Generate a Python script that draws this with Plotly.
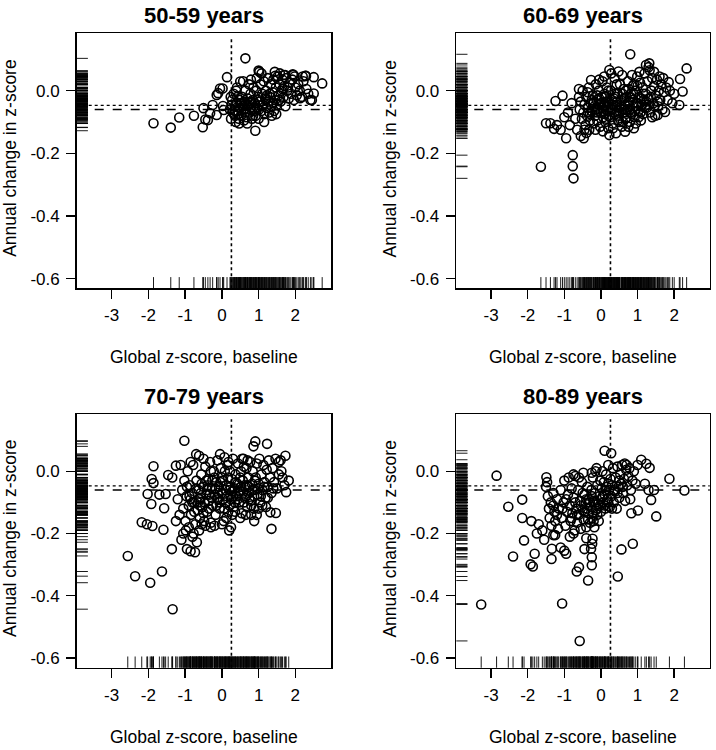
import plotly.graph_objects as go

FONT = "Liberation Sans, Arial, Helvetica, sans-serif"

panel_titles = ["50-59 years", "60-69 years", "70-79 years", "80-89 years"]
x_title = "Global z-score, baseline"
y_title = "Annual change in z-score"

x_tickvals = [-3, -2, -1, 0, 1, 2]
x_ticktext = ["-3", "-2", "-1", "0", "1", "2"]
y_tickvals = [0.0, -0.2, -0.4, -0.6]
y_ticktext = ["0.0", "-0.2", "-0.4", "-0.6"]

baseline_ref = 0.26      # vertical dotted line
change_ref_dot = -0.047  # horizontal dotted line
change_ref_dash = -0.060 # horizontal dashed line

# (baseline z-score, annual change) per age group
pts_5059 = [
    (-1.86, -0.104), (-1.39, -0.118), (-1.16, -0.086), (-0.76, -0.080), (-0.52, -0.117),
    (-0.45, -0.092), (-0.50, -0.056), (-0.38, -0.094), (-0.32, -0.072), (-0.25, -0.046),
    (-0.14, -0.078), (-0.14, -0.014), (-0.05, 0.007), (0.02, 0.007), (0.14, 0.043),
    (0.03, -0.049), (0.05, -0.062), (-0.10, -0.008), (0.64, 0.103), (0.91, -0.128),
    (1.00, 0.064), (1.02, 0.060), (1.68, 0.050), (1.95, 0.050), (2.29, 0.047),
    (2.50, 0.043), (2.73, 0.023), (2.45, -0.030), (2.50, -0.009), (2.13, -0.024),
    (2.41, -0.030), (2.27, 0.047), (1.93, 0.052), (1.45, 0.047), (0.50, 0.029),
    (0.22, -0.060), (0.25, -0.090), (0.28, -0.030), (0.30, -0.070), (0.32, -0.010),
    (0.35, -0.050), (0.36, -0.080), (0.38, -0.100), (0.40, -0.040), (0.42, -0.020),
    (0.44, -0.065), (0.46, -0.090), (0.48, -0.030), (0.50, -0.055), (0.41, 0.010),
    (0.33, -0.075), (0.27, -0.045), (0.47, -0.105), (0.24, -0.020), (0.39, 0.000),
    (0.52, -0.080), (0.55, -0.020), (0.57, -0.050), (0.60, -0.095), (0.62, -0.035),
    (0.64, 0.000), (0.66, -0.060), (0.68, -0.085), (0.70, -0.025), (0.72, -0.045),
    (0.74, 0.020), (0.76, -0.070), (0.78, -0.010), (0.80, -0.055), (0.82, -0.090),
    (0.84, -0.030), (0.86, 0.010), (0.88, -0.065), (0.58, 0.030), (0.69, -0.105),
    (0.79, 0.035), (0.53, -0.040), (0.63, -0.070), (0.75, -0.040), (0.85, -0.080),
    (0.90, -0.040), (0.92, -0.080), (0.94, 0.000), (0.96, -0.055), (0.98, -0.020),
    (1.00, -0.090), (1.03, -0.035), (1.05, 0.020), (1.07, -0.065), (1.10, -0.010),
    (1.12, -0.045), (1.14, 0.030), (1.16, -0.075), (1.18, -0.025), (1.20, 0.000),
    (1.22, -0.055), (1.25, 0.040), (1.27, -0.035), (1.29, -0.070), (0.95, 0.040),
    (1.08, 0.055), (1.15, -0.100), (1.01, -0.060), (1.23, -0.015), (1.31, -0.020),
    (1.33, 0.020), (1.35, -0.050), (1.38, -0.005), (1.40, 0.035), (1.42, -0.065),
    (1.45, -0.030), (1.47, 0.010), (1.50, -0.045), (1.52, 0.045), (1.55, -0.015),
    (1.57, 0.020), (1.60, -0.035), (1.62, 0.000), (1.65, 0.035), (1.68, -0.020),
    (1.70, 0.015), (1.73, -0.050), (1.75, 0.040), (1.78, 0.000), (1.36, -0.080),
    (1.48, -0.075), (1.58, 0.055), (1.72, 0.050), (1.44, 0.060), (1.82, -0.025),
    (1.85, 0.025), (1.88, -0.010), (1.92, 0.035), (1.96, -0.030), (2.00, 0.010),
    (2.04, -0.015), (2.08, 0.020), (2.12, 0.000), (2.18, -0.020), (2.22, 0.030),
    (2.30, 0.005), (2.35, -0.010), (2.20, 0.045), (1.98, 0.045),
    (0.35, -0.065), (0.50, -0.040), (0.60, -0.060), (0.70, -0.050), (0.80, -0.035),
    (0.90, -0.060), (1.00, -0.030), (1.10, -0.045), (1.20, -0.030), (1.30, -0.010),
    (1.40, -0.040), (1.55, -0.030), (1.65, 0.005), (1.80, 0.010), (0.65, -0.040),
    (0.45, -0.075),
]

pts_6069 = [
    (-1.64, -0.243), (-0.77, -0.206), (-0.77, -0.241), (-0.75, -0.280), (0.80, 0.116),
    (2.34, 0.071), (2.16, 0.037), (2.23, -0.003), (2.14, -0.046), (1.85, 0.027),
    (-1.50, -0.104), (-1.38, -0.104), (-1.20, -0.110), (-1.28, -0.122), (-1.10, -0.125),
    (-1.24, -0.033), (-1.05, -0.016), (-0.95, -0.152), (-0.47, -0.152), (-0.55, -0.145),
    (-0.40, -0.135), (-0.27, 0.034), (0.23, -0.142), (0.41, -0.136), (0.66, -0.131),
    (0.90, -0.120), (0.23, 0.066), (0.48, 0.061), (1.23, 0.082), (1.32, 0.087),
    (-0.90, -0.070), (-0.85, -0.110), (-0.70, -0.090), (-0.80, -0.040), (-0.65, -0.125),
    (-0.60, -0.020), (-1.00, -0.085), (1.55, -0.078), (1.75, -0.068), (1.95, -0.040),
    (2.00, -0.010), (1.70, 0.040), (1.45, 0.060),
    (-0.58, -0.060), (-0.55, -0.035), (-0.52, -0.090), (-0.50, 0.000), (-0.48, -0.070),
    (-0.45, -0.045), (-0.42, -0.110), (-0.40, -0.020), (-0.38, -0.080), (-0.35, -0.055),
    (-0.33, 0.010), (-0.30, -0.095), (-0.28, -0.040), (-0.25, -0.065), (-0.22, -0.015),
    (-0.20, -0.105), (-0.45, -0.125), (-0.32, -0.125), (-0.60, 0.005), (-0.36, -0.005),
    (-0.18, -0.050), (-0.16, -0.080), (-0.14, 0.020), (-0.12, -0.030), (-0.10, -0.095),
    (-0.08, -0.060), (-0.06, 0.000), (-0.04, -0.045), (-0.02, -0.115), (0.00, -0.070),
    (0.02, -0.020), (0.04, 0.030), (0.06, -0.085), (0.08, -0.050), (0.10, -0.010),
    (0.12, -0.100), (0.14, -0.035), (0.16, 0.010), (0.18, -0.065), (0.20, -0.120),
    (-0.05, 0.035), (0.09, 0.045), (-0.15, -0.125), (0.05, -0.130),
    (0.22, -0.040), (0.25, -0.085), (0.27, 0.000), (0.30, -0.060), (0.32, -0.105),
    (0.35, -0.025), (0.37, 0.040), (0.40, -0.075), (0.42, -0.045), (0.45, -0.010),
    (0.47, -0.095), (0.50, -0.055), (0.52, 0.020), (0.55, -0.030), (0.57, -0.115),
    (0.60, -0.070), (0.62, 0.005), (0.65, -0.045), (0.67, -0.090), (0.70, -0.020),
    (0.28, 0.055), (0.58, 0.050), (0.33, -0.120), (0.43, 0.020), (0.63, -0.060),
    (0.72, -0.060), (0.74, 0.030), (0.77, -0.035), (0.79, -0.100), (0.82, -0.010),
    (0.84, -0.075), (0.87, 0.015), (0.89, -0.050), (0.92, -0.085), (0.94, 0.000),
    (0.97, -0.040), (0.99, 0.045), (1.02, -0.065), (1.04, -0.020), (1.07, 0.025),
    (1.09, -0.095), (1.12, -0.045), (1.14, 0.010), (1.17, -0.030), (1.19, 0.055),
    (0.75, -0.115), (0.95, -0.105), (1.05, 0.060), (0.85, 0.050), (1.15, -0.075),
    (1.22, -0.010), (1.25, -0.055), (1.27, 0.030), (1.30, -0.025), (1.33, 0.065),
    (1.35, -0.070), (1.38, 0.000), (1.40, 0.040), (1.43, -0.040), (1.45, 0.015),
    (1.48, -0.080), (1.50, -0.015), (1.53, 0.035), (1.56, -0.050), (1.58, 0.000),
    (1.62, -0.030), (1.65, 0.020), (1.68, -0.060), (1.72, -0.005), (1.78, 0.010),
    (1.82, -0.030), (1.88, 0.000), (1.40, -0.085), (1.60, 0.045), (1.30, 0.075),
    (-0.25, -0.030), (-0.15, -0.060), (-0.05, -0.025), (0.03, -0.055), (0.11, -0.075),
    (0.19, -0.035), (0.26, -0.060), (0.34, -0.045), (0.41, -0.020), (0.49, -0.080),
    (0.56, -0.050), (0.64, -0.025), (0.71, -0.085), (0.78, -0.060), (0.86, -0.030),
    (0.93, -0.065), (1.01, -0.040), (1.08, -0.070), (1.16, -0.010), (1.24, -0.035),
    (0.15, -0.090), (0.38, -0.010), (0.60, -0.100), (0.90, 0.020), (1.10, -0.050),
    (-0.10, -0.070), (0.45, -0.065), (0.68, 0.000), (0.30, -0.030), (0.80, -0.020),
    (-0.35, -0.070), (-0.20, -0.040), (-0.10, -0.015), (0.00, -0.040), (0.07, -0.065),
    (0.13, -0.020), (0.21, -0.080), (0.29, -0.045), (0.36, -0.070), (0.44, -0.035),
    (0.51, -0.065), (0.59, -0.010), (0.66, -0.070), (0.73, -0.040), (0.81, -0.070),
    (0.88, -0.010), (0.96, -0.050), (1.03, -0.085), (1.11, -0.025), (1.20, -0.055),
    (1.28, -0.045), (1.36, -0.020), (1.46, -0.050), (1.55, -0.035), (0.50, -0.100),
    (0.20, 0.000), (0.75, 0.005), (1.00, 0.015), (-0.30, -0.075), (0.10, -0.045),
]

pts_7079 = [
    (-2.56, -0.272), (-2.36, -0.337), (-1.95, -0.358), (-1.63, -0.322), (-1.34, -0.443),
    (-1.36, -0.250), (-1.02, 0.098), (-1.86, 0.016), (-2.02, -0.073), (-1.92, -0.105),
    (-1.91, -0.025), (-1.86, -0.038), (-2.18, -0.164), (-2.04, -0.170), (-1.89, -0.176),
    (-1.59, -0.188), (-1.57, -0.119), (-1.53, -0.073), (-1.46, -0.012), (-1.25, 0.018),
    (-1.35, -0.020), (-1.70, -0.075), (-1.12, 0.020), (-0.95, -0.250), (-0.85, -0.257),
    (-0.73, -0.260), (-0.68, -0.228), (-0.80, -0.210), (-0.90, -0.180), (-1.05, -0.200),
    (-1.15, -0.140), (-1.20, -0.090), (-1.25, -0.160), (-1.10, -0.220), (-0.62, -0.190),
    (-0.55, -0.170), (0.88, -0.160), (1.35, -0.185), (1.32, -0.132), (1.47, -0.134),
    (0.91, 0.096), (0.86, 0.080), (1.23, 0.088), (1.73, 0.050), (1.75, -0.067),
    (1.82, -0.030), (-0.70, 0.055), (-0.62, 0.050), (-0.05, 0.055), (0.25, -0.180),
    (0.20, -0.190), (0.95, -0.140), (1.10, -0.110), (1.62, 0.000), (1.70, -0.045),
    (1.55, 0.030),
    (-1.08, -0.060), (-1.05, -0.120), (-1.02, -0.030), (-0.99, -0.160), (-0.96, -0.080),
    (-0.93, 0.000), (-0.90, -0.110), (-0.87, -0.045), (-0.84, -0.140), (-0.81, -0.070),
    (-0.78, 0.020), (-0.75, -0.100), (-0.72, -0.170), (-0.69, -0.030), (-0.66, -0.125),
    (-0.63, -0.060), (-0.60, -0.150), (-0.98, -0.190), (-0.77, -0.200), (-0.85, 0.030),
    (-0.58, -0.085), (-0.56, -0.010), (-0.53, -0.115), (-0.50, -0.050), (-0.48, -0.160),
    (-0.45, 0.015), (-0.42, -0.075), (-0.40, -0.130), (-0.37, -0.025), (-0.35, -0.095),
    (-0.32, 0.030), (-0.30, -0.165), (-0.27, -0.055), (-0.25, -0.110), (-0.22, 0.000),
    (-0.20, -0.075), (-0.17, -0.140), (-0.15, -0.035), (-0.12, 0.035), (-0.10, -0.090),
    (-0.45, -0.175), (-0.30, -0.180), (-0.50, 0.040), (-0.20, -0.175), (-0.38, -0.045),
    (-0.08, -0.050), (-0.06, -0.120), (-0.03, 0.010), (0.00, -0.070), (0.02, -0.030),
    (0.05, -0.160), (0.07, 0.045), (0.10, -0.100), (0.12, -0.045), (0.15, 0.020),
    (0.17, -0.130), (0.20, -0.060), (0.22, 0.000), (0.25, -0.090), (0.27, -0.025),
    (0.30, 0.040), (0.32, -0.115), (0.35, -0.055), (0.37, -0.010), (0.40, -0.080),
    (0.00, -0.170), (0.12, -0.150), (0.28, -0.140), (0.08, 0.000), (0.18, 0.030),
    (0.42, -0.040), (0.44, 0.025), (0.47, -0.100), (0.49, -0.065), (0.52, 0.000),
    (0.54, -0.135), (0.57, -0.030), (0.59, 0.040), (0.62, -0.085), (0.64, -0.050),
    (0.67, 0.010), (0.69, -0.115), (0.72, -0.020), (0.74, -0.070), (0.77, 0.030),
    (0.79, -0.095), (0.82, -0.040), (0.84, 0.000), (0.87, -0.120), (0.89, -0.060),
    (0.50, -0.150), (0.65, -0.140), (0.80, -0.140), (0.55, 0.040), (0.70, 0.035),
    (0.92, -0.020), (0.95, 0.025), (0.97, -0.075), (1.00, -0.040), (1.02, 0.040),
    (1.05, -0.100), (1.08, -0.010), (1.10, -0.060), (1.13, 0.020), (1.16, -0.035),
    (1.19, -0.085), (1.22, 0.005), (1.25, -0.050), (1.28, 0.035), (1.31, -0.020),
    (1.35, -0.070), (1.38, 0.010), (1.42, -0.035), (1.46, 0.040), (1.50, -0.055),
    (1.55, -0.010), (1.60, 0.035), (1.65, -0.020), (1.00, -0.120), (1.20, -0.115),
    (-0.88, -0.080), (-0.80, -0.100), (-0.70, -0.055), (-0.62, -0.090), (-0.55, -0.040),
    (-0.47, -0.100), (-0.40, -0.060), (-0.33, -0.075), (-0.26, -0.030), (-0.18, -0.055),
    (-0.11, -0.070), (-0.04, -0.035), (0.03, -0.090), (0.10, -0.060), (0.17, -0.020),
    (0.24, -0.050), (0.31, -0.080), (0.38, -0.035), (0.45, -0.070), (0.52, -0.050),
    (0.60, -0.100), (0.68, -0.045), (0.75, -0.090), (0.83, -0.060), (0.90, -0.030),
    (-0.60, -0.110), (-0.15, -0.110), (0.35, -0.100), (0.60, 0.015), (-0.30, 0.000),
    (-0.95, -0.050), (-0.85, -0.090), (-0.75, -0.130), (-0.65, -0.100), (-0.57, -0.070),
    (-0.50, -0.135), (-0.42, -0.030), (-0.35, -0.120), (-0.28, -0.085), (-0.20, -0.020),
    (-0.13, -0.085), (-0.06, -0.100), (0.00, -0.020), (0.06, -0.120), (0.14, -0.080),
    (0.21, -0.110), (0.28, -0.065), (0.36, -0.130), (0.43, -0.090), (0.50, -0.020),
    (0.58, -0.065), (0.66, -0.080), (0.73, -0.050), (0.80, -0.110), (0.88, -0.080),
    (0.98, -0.055), (1.06, -0.080), (1.15, -0.050), (1.25, -0.085), (1.40, -0.055),
]

pts_8089 = [
    (-3.27, -0.428), (-2.85, -0.014), (-2.53, -0.114), (-2.15, -0.091), (-2.15, -0.150),
    (-2.10, -0.222), (-2.40, -0.274), (-1.92, -0.299), (-1.86, -0.306), (-1.81, -0.265),
    (-1.35, -0.282), (-1.34, -0.249), (-1.06, -0.425), (-0.58, -0.545), (-0.60, -0.308),
    (-0.66, -0.322), (-0.35, -0.351), (-0.25, -0.302), (-0.25, -0.276), (-0.27, -0.249),
    (-0.24, -0.233), (-0.23, -0.217), (0.10, 0.066), (0.28, 0.058), (0.46, -0.338),
    (0.56, -0.251), (0.87, -0.233), (1.51, -0.145), (1.37, -0.092), (1.87, -0.024),
    (2.28, -0.062), (1.10, 0.037), (1.24, 0.024), (1.33, 0.011), (1.01, -0.126),
    (0.83, -0.135), (-1.49, -0.019), (-1.47, -0.035), (-1.50, -0.050), (-1.00, -0.255),
    (-0.95, -0.265), (-1.10, -0.245), (-1.75, -0.200), (-1.70, -0.170), (-1.90, -0.160),
    (-1.60, -0.190), (-1.55, -0.220), (-1.30, -0.205), (-1.25, -0.205), (-0.85, -0.210),
    (-0.75, -0.200), (-0.45, -0.250), (-0.40, -0.215), (1.20, -0.040), (1.00, 0.020),
    (0.70, 0.020), (1.30, -0.060), (1.45, -0.060),
    (-1.45, -0.080), (-1.42, -0.120), (-1.40, -0.150), (-1.37, -0.100), (-1.35, -0.175),
    (-1.30, -0.070), (-1.27, -0.130), (-1.25, -0.160), (-1.20, -0.090), (-1.17, -0.185),
    (-1.15, -0.120), (-1.10, -0.060), (-1.07, -0.150), (-1.02, -0.100), (-1.00, -0.030),
    (-0.97, -0.175), (-0.93, -0.130), (-0.90, -0.075),
    (-0.88, -0.020), (-0.85, -0.110), (-0.83, -0.160), (-0.80, -0.055), (-0.78, -0.135),
    (-0.75, -0.085), (-0.72, -0.190), (-0.70, -0.015), (-0.67, -0.120), (-0.65, -0.165),
    (-0.62, -0.060), (-0.60, -0.140), (-0.57, -0.095), (-0.55, -0.185), (-0.52, -0.035),
    (-0.50, -0.125), (-0.47, -0.155), (-0.45, -0.075), (-0.42, -0.105), (-0.40, -0.180),
    (-0.37, -0.050), (-0.35, -0.135), (-0.33, -0.090), (-0.30, -0.165), (-0.75, -0.010),
    (-0.60, -0.020), (-0.48, -0.005),
    (-0.28, -0.115), (-0.26, -0.060), (-0.24, -0.150), (-0.22, -0.020), (-0.20, -0.095),
    (-0.18, -0.180), (-0.16, -0.070), (-0.14, -0.125), (-0.12, 0.010), (-0.10, -0.045),
    (-0.08, -0.105), (-0.06, -0.160), (-0.04, -0.080), (-0.02, -0.030), (0.00, -0.130),
    (0.02, -0.055), (0.04, 0.000), (0.06, -0.100), (0.08, -0.035), (0.10, -0.075),
    (0.12, -0.120), (0.14, -0.010), (0.16, -0.050), (0.18, -0.090), (0.20, 0.020),
    (0.22, -0.060), (0.24, -0.115), (0.26, -0.025), (0.28, -0.080), (-0.25, -0.005),
    (-0.15, 0.000),
    (0.30, -0.045), (0.33, 0.010), (0.35, -0.100), (0.38, -0.065), (0.40, -0.020),
    (0.43, -0.120), (0.45, 0.015), (0.48, -0.050), (0.50, -0.085), (0.53, -0.010),
    (0.55, -0.040), (0.58, 0.020), (0.60, -0.070), (0.63, -0.025), (0.66, -0.095),
    (0.69, 0.005), (0.72, -0.045), (0.75, -0.015), (0.78, 0.010), (0.82, -0.060),
    (0.86, -0.030), (0.90, 0.000), (0.95, -0.040), (0.80, -0.090), (0.65, 0.025),
    (-0.70, -0.100), (-0.55, -0.110), (-0.45, -0.130), (-0.38, -0.120), (-0.30, -0.100),
    (-0.22, -0.135), (-0.15, -0.100), (-0.10, -0.140), (-0.03, -0.110), (0.05, -0.080),
    (0.13, -0.060), (0.20, -0.040), (0.35, -0.060), (0.50, -0.030), (-0.20, -0.160),
    (-0.35, -0.155),
    (-1.30, -0.110), (-1.20, -0.140), (-1.05, -0.120), (-0.95, -0.090), (-0.80, -0.150),
    (-0.65, -0.140), (-0.50, -0.070), (-0.40, -0.090), (-0.25, -0.080), (-0.10, -0.120),
    (0.00, -0.090), (0.10, -0.110), (0.20, -0.100), (0.30, -0.120), (0.45, -0.070),
    (0.60, -0.050),
]

panels = [pts_5059, pts_6069, pts_7079, pts_8089]

# ---------------- layout geometry ----------------
W, H = 716, 750
X_RANGE = [-3.95, 2.97]
Y_RANGE = [-0.631, 0.183]
# plot boxes in pixels: (left, right, top, bottom)
boxes = [(76.7, 331.0, 33.3, 288.3), (456.3, 709.7, 33.3, 288.3),
         (76.7, 331.0, 414.3, 667.7), (456.3, 709.7, 414.3, 667.7)]


def px(v):
    return v / W


def py(v):
    return 1 - v / H


fig = go.Figure()
layout = dict(
    width=W, height=H, margin=dict(l=0, r=0, t=0, b=0),
    paper_bgcolor="white", plot_bgcolor="white", showlegend=False,
    font=dict(family=FONT, color="black", size=17),
)
shapes, annotations = [], []

for i, (pts, title, box) in enumerate(zip(panels, panel_titles, boxes), start=1):
    sfx = "" if i == 1 else str(i)
    xa, ya = "x" + sfx, "y" + sfx
    L, R, T, B = box
    xs = [p[0] for p in pts]
    ys = [p[1] for p in pts]

    # scatter points
    fig.add_trace(go.Scatter(
        x=xs, y=ys, xaxis=xa, yaxis=ya, mode="markers",
        marker=dict(symbol="circle-open", size=9, color="black",
                    line=dict(width=1.6, color="black")),
        hoverinfo="skip"))
    # rug on x (bottom)
    fig.add_trace(go.Scatter(
        x=xs, y=[Y_RANGE[0]] * len(xs), xaxis=xa, yaxis=ya, mode="markers",
        marker=dict(symbol="line-ns", size=16, line=dict(width=0.9, color="black")),
        cliponaxis=True, hoverinfo="skip"))
    # rug on y (left)
    fig.add_trace(go.Scatter(
        x=[X_RANGE[0]] * len(ys), y=ys, xaxis=xa, yaxis=ya, mode="markers",
        marker=dict(symbol="line-ew", size=16, line=dict(width=0.9, color="black")),
        cliponaxis=True, hoverinfo="skip"))

    layout["xaxis" + sfx] = dict(
        domain=[px(L), px(R)], anchor=ya, range=X_RANGE,
        tickvals=x_tickvals, ticktext=x_ticktext, ticks="outside", ticklen=9,
        tickwidth=1.4, tickcolor="black", showgrid=False, zeroline=False,
        showline=True, mirror=True, linecolor="black", linewidth=1.6,
        tickfont=dict(size=17), ticklabelstandoff=2)
    layout["yaxis" + sfx] = dict(
        domain=[py(B), py(T)], anchor=xa, range=Y_RANGE,
        tickvals=y_tickvals, ticktext=y_ticktext, ticks="outside", ticklen=9,
        tickwidth=1.4, tickcolor="black", showgrid=False, zeroline=False,
        showline=True, mirror=True, linecolor="black", linewidth=1.6,
        tickfont=dict(size=17), ticklabelstandoff=3)

    # reference lines
    shapes.append(dict(type="line", xref=xa, yref=ya + " domain",
                       x0=baseline_ref, x1=baseline_ref, y0=0, y1=0.98,
                       line=dict(color="black", width=1.6, dash="dot")))
    shapes.append(dict(type="line", xref=xa + " domain", yref=ya,
                       x0=0, x1=1, y0=change_ref_dot, y1=change_ref_dot,
                       line=dict(color="black", width=1.4, dash="dot")))
    shapes.append(dict(type="line", xref=xa + " domain", yref=ya,
                       x0=0, x1=1, y0=change_ref_dash, y1=change_ref_dash,
                       line=dict(color="black", width=1.5, dash="dash")))

    cx = (L + R) / 2
    annotations.append(dict(text="<b>" + title + "</b>", xref="paper", yref="paper",
                            x=px(cx), y=py(T - 18), xanchor="center", yanchor="middle",
                            showarrow=False, font=dict(size=22, family=FONT)))
    annotations.append(dict(text=x_title, xref="paper", yref="paper",
                            x=px(cx), y=py(B + 69), xanchor="center", yanchor="middle",
                            showarrow=False, font=dict(size=17.5, family=FONT)))
    annotations.append(dict(text=y_title, xref="paper", yref="paper",
                            x=px(L - 66.7), y=py((T + B) / 2 - 2),
                            xanchor="center", yanchor="middle", textangle=-90,
                            showarrow=False, font=dict(size=17.5, family=FONT)))

layout["shapes"] = shapes
layout["annotations"] = annotations
fig.update_layout(**layout)
# remove the page's default 8px body margin so the figure fills the window exactly
fig.write_html("out.html",
               config={"displayModeBar": False, "staticPlot": True},
               post_script="document.body.style.margin='0';"
                           "document.documentElement.style.overflow='hidden';")
